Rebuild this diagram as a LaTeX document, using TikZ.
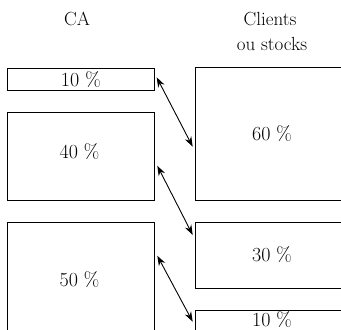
\documentclass[tikz,border=0pt]{standalone}
\usetikzlibrary{arrows.meta}
\begin{document}
\begin{tikzpicture}[x=1pt,y=-1pt,
  box/.style={draw, line width=1pt, anchor=north west, inner sep=0pt, outer sep=0pt},
  lbl/.style={font=\fontsize{20}{24}\selectfont, inner sep=0pt, anchor=base},
  hdr/.style={font=\fontsize{19}{25}\selectfont, inner sep=0pt, anchor=base},
  conn/.style={{Stealth[length=10pt,width=7pt]}-{Stealth[length=10pt,width=7pt]}, line width=0.9pt}]
\useasboundingbox (0,0) rectangle (341,330);
\clip (0,0) rectangle (341,330);
% left column (CA)
\node[box, minimum width=147.2pt, minimum height=21.7pt]  (L1) at (7.3,68.3) {};
\node[box, minimum width=147.2pt, minimum height=87.7pt]  (L2) at (7.3,112.3) {};
\node[box, minimum width=147.2pt, minimum height=140pt]   (L3) at (7.3,222.3) {};
% right column (clients ou stocks)
\node[box, minimum width=170pt, minimum height=132.2pt] (R1) at (195,67.8) {};
\node[box, minimum width=170pt, minimum height=66pt]    (R2) at (195,222.3) {};
\node[box, minimum width=170pt, minimum height=40pt]    (R3) at (195,310) {};
% headers
\node[hdr] (hCA) at (77,25) {CA};
\node[hdr] (hCl) at (270,25) {Clients};
\node[hdr] (hOu) at (272,50.5) {ou stocks};
% labels
\node[lbl] (t1) at (80.9,86) {10 \%};
\node[lbl] (t2) at (79.5,158.3) {40 \%};
\node[lbl] (t3) at (79.5,286) {50 \%};
\node[lbl] (t4) at (272,140) {60 \%};
\node[lbl] (t5) at (272,261) {30 \%};
\node[lbl] (t6) at (272,326) {10 \%};
% connector ends
\coordinate (a1) at (156.7,77.3);
\coordinate (b1) at (192.7,146.7);
\coordinate (a2) at (157.3,165.7);
\coordinate (b2) at (192.7,235);
\coordinate (a3) at (157.3,255.7);
\coordinate (b3) at (192.7,321.7);
\draw[conn] (a1) -- (b1);
\draw[conn] (a2) -- (b2);
\draw[conn] (a3) -- (b3);
\end{tikzpicture}
\end{document}
